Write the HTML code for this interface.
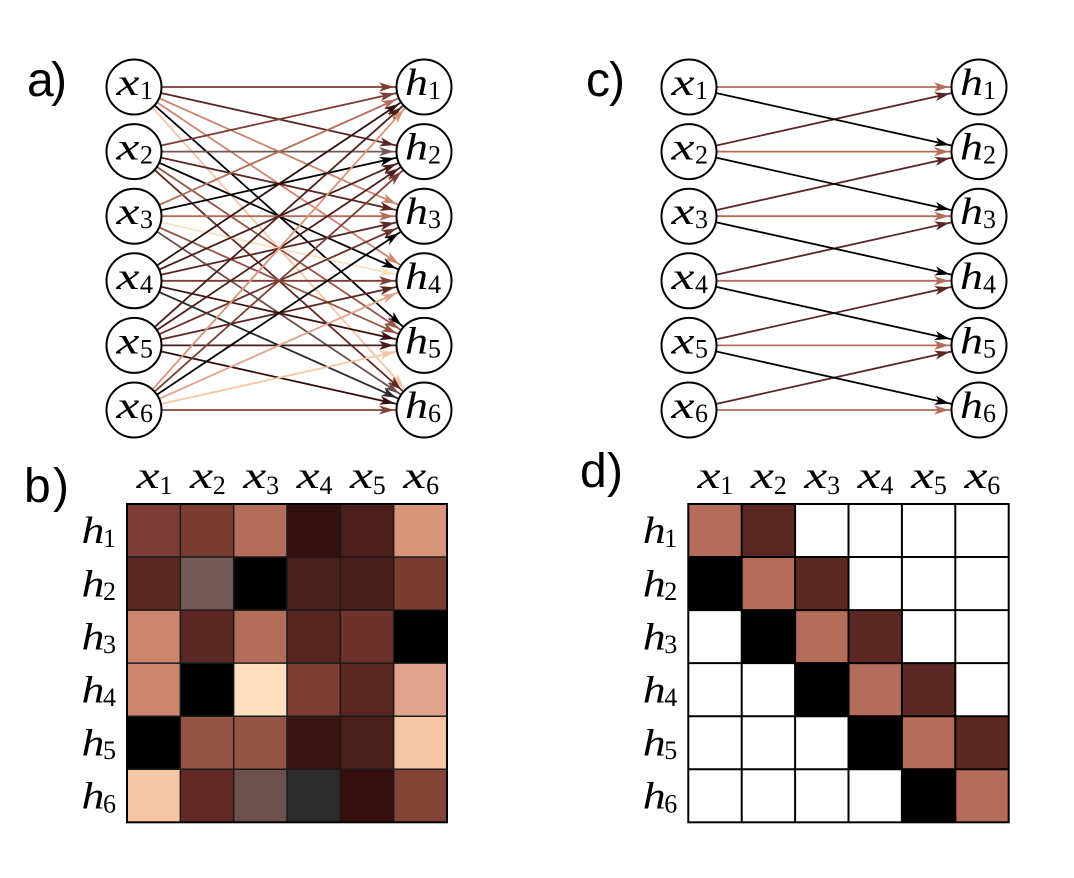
<!DOCTYPE html>
<html><head><meta charset="utf-8"><style>
html,body{margin:0;padding:0;background:#fff;}
svg{display:block;}
.m{font-family:"Liberation Serif",serif;font-style:italic;font-size:38px;fill:#000;}
.s{font-family:"Liberation Serif",serif;font-size:26px;fill:#000;}
.p{font-family:"Liberation Sans",sans-serif;font-size:48px;fill:#000;}
</style></head><body>
<svg width="1074" height="878" viewBox="0 0 1074 878" xmlns="http://www.w3.org/2000/svg">
<defs>
<marker id="mA" viewBox="-50 -10 100 20" markerWidth="100" markerHeight="20" refX="30" refY="0" orient="auto" markerUnits="userSpaceOnUse"><path d="M0,0 L-15,-4.6 L-11,0 L-15,4.6Z" fill="#7b3d35"/></marker>
<marker id="mB" viewBox="-50 -10 100 20" markerWidth="100" markerHeight="20" refX="30" refY="0" orient="auto" markerUnits="userSpaceOnUse"><path d="M0,0 L-15,-4.6 L-11,0 L-15,4.6Z" fill="#b46d5a"/></marker>
<marker id="mC" viewBox="-50 -10 100 20" markerWidth="100" markerHeight="20" refX="30" refY="0" orient="auto" markerUnits="userSpaceOnUse"><path d="M0,0 L-15,-4.6 L-11,0 L-15,4.6Z" fill="#33110e"/></marker>
<marker id="mD" viewBox="-50 -10 100 20" markerWidth="100" markerHeight="20" refX="30" refY="0" orient="auto" markerUnits="userSpaceOnUse"><path d="M0,0 L-15,-4.6 L-11,0 L-15,4.6Z" fill="#4a1e1a"/></marker>
<marker id="mE" viewBox="-50 -10 100 20" markerWidth="100" markerHeight="20" refX="30" refY="0" orient="auto" markerUnits="userSpaceOnUse"><path d="M0,0 L-15,-4.6 L-11,0 L-15,4.6Z" fill="#d8957a"/></marker>
<marker id="mF" viewBox="-50 -10 100 20" markerWidth="100" markerHeight="20" refX="30" refY="0" orient="auto" markerUnits="userSpaceOnUse"><path d="M0,0 L-15,-4.6 L-11,0 L-15,4.6Z" fill="#5b2722"/></marker>
<marker id="mG" viewBox="-50 -10 100 20" markerWidth="100" markerHeight="20" refX="30" refY="0" orient="auto" markerUnits="userSpaceOnUse"><path d="M0,0 L-15,-4.6 L-11,0 L-15,4.6Z" fill="#735856"/></marker>
<marker id="mK" viewBox="-50 -10 100 20" markerWidth="100" markerHeight="20" refX="30" refY="0" orient="auto" markerUnits="userSpaceOnUse"><path d="M0,0 L-15,-4.6 L-11,0 L-15,4.6Z" fill="#000000"/></marker>
<marker id="mH" viewBox="-50 -10 100 20" markerWidth="100" markerHeight="20" refX="30" refY="0" orient="auto" markerUnits="userSpaceOnUse"><path d="M0,0 L-15,-4.6 L-11,0 L-15,4.6Z" fill="#cc866f"/></marker>
<marker id="mI" viewBox="-50 -10 100 20" markerWidth="100" markerHeight="20" refX="30" refY="0" orient="auto" markerUnits="userSpaceOnUse"><path d="M0,0 L-15,-4.6 L-11,0 L-15,4.6Z" fill="#6d322c"/></marker>
<marker id="mJ" viewBox="-50 -10 100 20" markerWidth="100" markerHeight="20" refX="30" refY="0" orient="auto" markerUnits="userSpaceOnUse"><path d="M0,0 L-15,-4.6 L-11,0 L-15,4.6Z" fill="#fde0c0"/></marker>
<marker id="mL" viewBox="-50 -10 100 20" markerWidth="100" markerHeight="20" refX="30" refY="0" orient="auto" markerUnits="userSpaceOnUse"><path d="M0,0 L-15,-4.6 L-11,0 L-15,4.6Z" fill="#e0a48e"/></marker>
<marker id="mM" viewBox="-50 -10 100 20" markerWidth="100" markerHeight="20" refX="30" refY="0" orient="auto" markerUnits="userSpaceOnUse"><path d="M0,0 L-15,-4.6 L-11,0 L-15,4.6Z" fill="#955345"/></marker>
<marker id="mN" viewBox="-50 -10 100 20" markerWidth="100" markerHeight="20" refX="30" refY="0" orient="auto" markerUnits="userSpaceOnUse"><path d="M0,0 L-15,-4.6 L-11,0 L-15,4.6Z" fill="#3c1512"/></marker>
<marker id="mO" viewBox="-50 -10 100 20" markerWidth="100" markerHeight="20" refX="30" refY="0" orient="auto" markerUnits="userSpaceOnUse"><path d="M0,0 L-15,-4.6 L-11,0 L-15,4.6Z" fill="#f5c6a6"/></marker>
<marker id="mP" viewBox="-50 -10 100 20" markerWidth="100" markerHeight="20" refX="30" refY="0" orient="auto" markerUnits="userSpaceOnUse"><path d="M0,0 L-15,-4.6 L-11,0 L-15,4.6Z" fill="#612a24"/></marker>
<marker id="mQ" viewBox="-50 -10 100 20" markerWidth="100" markerHeight="20" refX="30" refY="0" orient="auto" markerUnits="userSpaceOnUse"><path d="M0,0 L-15,-4.6 L-11,0 L-15,4.6Z" fill="#6c504d"/></marker>
<marker id="mR" viewBox="-50 -10 100 20" markerWidth="100" markerHeight="20" refX="30" refY="0" orient="auto" markerUnits="userSpaceOnUse"><path d="M0,0 L-15,-4.6 L-11,0 L-15,4.6Z" fill="#2b2b2b"/></marker>
<marker id="mS" viewBox="-50 -10 100 20" markerWidth="100" markerHeight="20" refX="30" refY="0" orient="auto" markerUnits="userSpaceOnUse"><path d="M0,0 L-15,-4.6 L-11,0 L-15,4.6Z" fill="#360f0d"/></marker>
<marker id="mT" viewBox="-50 -10 100 20" markerWidth="100" markerHeight="20" refX="30" refY="0" orient="auto" markerUnits="userSpaceOnUse"><path d="M0,0 L-15,-4.6 L-11,0 L-15,4.6Z" fill="#834438"/></marker>
</defs>

<!-- Panel labels -->
<text class="p" x="27" y="96">a</text><text class="p" x="51" y="96">)</text>
<text class="p" x="586" y="96">c</text><text class="p" x="609" y="96">)</text>
<text class="p" x="24" y="502">b</text><text class="p" x="53" y="502">)</text>
<text class="p" x="580" y="487">d</text><text class="p" x="607" y="487">)</text>

<!-- Panel a edges -->
<g stroke-width="1.8" fill="none">
<line x1="134" y1="87" x2="424" y2="87" stroke="#7b3d35" marker-end="url(#mA)"/>
<line x1="134" y1="87" x2="424" y2="151.6" stroke="#5b2722" marker-end="url(#mF)"/>
<line x1="134" y1="87" x2="424" y2="216.2" stroke="#cc866f" marker-end="url(#mH)"/>
<line x1="134" y1="87" x2="424" y2="280.8" stroke="#cc866f" marker-end="url(#mH)"/>
<line x1="134" y1="87" x2="424" y2="345.4" stroke="#000000" marker-end="url(#mK)"/>
<line x1="134" y1="87" x2="424" y2="410" stroke="#f5c6a6" marker-end="url(#mO)"/>

<line x1="134" y1="151.6" x2="424" y2="87" stroke="#7b3d35" marker-end="url(#mA)"/>
<line x1="134" y1="151.6" x2="424" y2="151.6" stroke="#735856" marker-end="url(#mG)"/>
<line x1="134" y1="151.6" x2="424" y2="216.2" stroke="#5b2722" marker-end="url(#mF)"/>
<line x1="134" y1="151.6" x2="424" y2="280.8" stroke="#000000" marker-end="url(#mK)"/>
<line x1="134" y1="151.6" x2="424" y2="345.4" stroke="#955345" marker-end="url(#mM)"/>
<line x1="134" y1="151.6" x2="424" y2="410" stroke="#612a24" marker-end="url(#mP)"/>

<line x1="134" y1="216.2" x2="424" y2="87" stroke="#b46d5a" marker-end="url(#mB)"/>
<line x1="134" y1="216.2" x2="424" y2="151.6" stroke="#000000" marker-end="url(#mK)"/>
<line x1="134" y1="216.2" x2="424" y2="216.2" stroke="#b46d5a" marker-end="url(#mB)"/>
<line x1="134" y1="216.2" x2="424" y2="280.8" stroke="#fde0c0" marker-end="url(#mJ)"/>
<line x1="134" y1="216.2" x2="424" y2="345.4" stroke="#955345" marker-end="url(#mM)"/>
<line x1="134" y1="216.2" x2="424" y2="410" stroke="#6c504d" marker-end="url(#mQ)"/>

<line x1="134" y1="280.8" x2="424" y2="87" stroke="#33110e" marker-end="url(#mC)"/>
<line x1="134" y1="280.8" x2="424" y2="151.6" stroke="#4a1e1a" marker-end="url(#mD)"/>
<line x1="134" y1="280.8" x2="424" y2="216.2" stroke="#5b2722" marker-end="url(#mF)"/>
<line x1="134" y1="280.8" x2="424" y2="280.8" stroke="#7b3d35" marker-end="url(#mA)"/>
<line x1="134" y1="280.8" x2="424" y2="345.4" stroke="#3c1512" marker-end="url(#mN)"/>
<line x1="134" y1="280.8" x2="424" y2="410" stroke="#2b2b2b" marker-end="url(#mR)"/>

<line x1="134" y1="345.4" x2="424" y2="87" stroke="#4a1e1a" marker-end="url(#mD)"/>
<line x1="134" y1="345.4" x2="424" y2="151.6" stroke="#4a1e1a" marker-end="url(#mD)"/>
<line x1="134" y1="345.4" x2="424" y2="216.2" stroke="#6d322c" marker-end="url(#mI)"/>
<line x1="134" y1="345.4" x2="424" y2="280.8" stroke="#5b2722" marker-end="url(#mF)"/>
<line x1="134" y1="345.4" x2="424" y2="345.4" stroke="#4a1e1a" marker-end="url(#mD)"/>
<line x1="134" y1="345.4" x2="424" y2="410" stroke="#360f0d" marker-end="url(#mS)"/>

<line x1="134" y1="410" x2="424" y2="87" stroke="#d8957a" marker-end="url(#mE)"/>
<line x1="134" y1="410" x2="424" y2="151.6" stroke="#7b3d35" marker-end="url(#mA)"/>
<line x1="134" y1="410" x2="424" y2="216.2" stroke="#000000" marker-end="url(#mK)"/>
<line x1="134" y1="410" x2="424" y2="280.8" stroke="#e0a48e" marker-end="url(#mL)"/>
<line x1="134" y1="410" x2="424" y2="345.4" stroke="#f5c6a6" marker-end="url(#mO)"/>
<line x1="134" y1="410" x2="424" y2="410" stroke="#834438" marker-end="url(#mT)"/>
</g>

<!-- Panel c edges -->
<g stroke-width="1.8" fill="none">
<line x1="689" y1="151.6" x2="979" y2="87" stroke="#5b2722" marker-end="url(#mF)"/>
<line x1="689" y1="216.2" x2="979" y2="151.6" stroke="#5b2722" marker-end="url(#mF)"/>
<line x1="689" y1="280.8" x2="979" y2="216.2" stroke="#5b2722" marker-end="url(#mF)"/>
<line x1="689" y1="345.4" x2="979" y2="280.8" stroke="#5b2722" marker-end="url(#mF)"/>
<line x1="689" y1="410" x2="979" y2="345.4" stroke="#5b2722" marker-end="url(#mF)"/>

<line x1="689" y1="87" x2="979" y2="151.6" stroke="#000" marker-end="url(#mK)"/>
<line x1="689" y1="151.6" x2="979" y2="216.2" stroke="#000" marker-end="url(#mK)"/>
<line x1="689" y1="216.2" x2="979" y2="280.8" stroke="#000" marker-end="url(#mK)"/>
<line x1="689" y1="280.8" x2="979" y2="345.4" stroke="#000" marker-end="url(#mK)"/>
<line x1="689" y1="345.4" x2="979" y2="410" stroke="#000" marker-end="url(#mK)"/>

<line x1="689" y1="87" x2="979" y2="87" stroke="#b46d5a" marker-end="url(#mB)"/>
<line x1="689" y1="151.6" x2="979" y2="151.6" stroke="#b46d5a" marker-end="url(#mB)"/>
<line x1="689" y1="216.2" x2="979" y2="216.2" stroke="#b46d5a" marker-end="url(#mB)"/>
<line x1="689" y1="280.8" x2="979" y2="280.8" stroke="#b46d5a" marker-end="url(#mB)"/>
<line x1="689" y1="345.4" x2="979" y2="345.4" stroke="#b46d5a" marker-end="url(#mB)"/>
<line x1="689" y1="410" x2="979" y2="410" stroke="#b46d5a" marker-end="url(#mB)"/>
</g>

<!-- Nodes -->
<g fill="#fff" stroke="#000" stroke-width="2">
<circle cx="134" cy="87" r="27.5"/><circle cx="134" cy="151.6" r="27.5"/><circle cx="134" cy="216.2" r="27.5"/>
<circle cx="134" cy="280.8" r="27.5"/><circle cx="134" cy="345.4" r="27.5"/><circle cx="134" cy="410" r="27.5"/>
<circle cx="424" cy="87" r="27.5"/><circle cx="424" cy="151.6" r="27.5"/><circle cx="424" cy="216.2" r="27.5"/>
<circle cx="424" cy="280.8" r="27.5"/><circle cx="424" cy="345.4" r="27.5"/><circle cx="424" cy="410" r="27.5"/>
<circle cx="689" cy="87" r="27.5"/><circle cx="689" cy="151.6" r="27.5"/><circle cx="689" cy="216.2" r="27.5"/>
<circle cx="689" cy="280.8" r="27.5"/><circle cx="689" cy="345.4" r="27.5"/><circle cx="689" cy="410" r="27.5"/>
<circle cx="979" cy="87" r="27.5"/><circle cx="979" cy="151.6" r="27.5"/><circle cx="979" cy="216.2" r="27.5"/>
<circle cx="979" cy="280.8" r="27.5"/><circle cx="979" cy="345.4" r="27.5"/><circle cx="979" cy="410" r="27.5"/>
</g>

<!-- Node labels panel a -->
<text class="m" x="116.5" y="95" textLength="23" lengthAdjust="spacingAndGlyphs">x</text><text class="s" x="140" y="99">1</text>
<text class="m" x="116.5" y="159.6" textLength="23" lengthAdjust="spacingAndGlyphs">x</text><text class="s" x="140" y="163.6">2</text>
<text class="m" x="116.5" y="224.2" textLength="23" lengthAdjust="spacingAndGlyphs">x</text><text class="s" x="140" y="228.2">3</text>
<text class="m" x="116.5" y="288.8" textLength="23" lengthAdjust="spacingAndGlyphs">x</text><text class="s" x="140" y="292.8">4</text>
<text class="m" x="116.5" y="353.4" textLength="23" lengthAdjust="spacingAndGlyphs">x</text><text class="s" x="140" y="357.4">5</text>
<text class="m" x="116.5" y="418" textLength="23" lengthAdjust="spacingAndGlyphs">x</text><text class="s" x="140" y="422">6</text>

<text class="m" x="405" y="95" textLength="23" lengthAdjust="spacingAndGlyphs">h</text><text class="s" x="428" y="99">1</text>
<text class="m" x="405" y="159.6" textLength="23" lengthAdjust="spacingAndGlyphs">h</text><text class="s" x="428" y="163.6">2</text>
<text class="m" x="405" y="224.2" textLength="23" lengthAdjust="spacingAndGlyphs">h</text><text class="s" x="428" y="228.2">3</text>
<text class="m" x="405" y="288.8" textLength="23" lengthAdjust="spacingAndGlyphs">h</text><text class="s" x="428" y="292.8">4</text>
<text class="m" x="405" y="353.4" textLength="23" lengthAdjust="spacingAndGlyphs">h</text><text class="s" x="428" y="357.4">5</text>
<text class="m" x="405" y="418" textLength="23" lengthAdjust="spacingAndGlyphs">h</text><text class="s" x="428" y="422">6</text>

<!-- Node labels panel c -->
<text class="m" x="671.5" y="95" textLength="23" lengthAdjust="spacingAndGlyphs">x</text><text class="s" x="695" y="99">1</text>
<text class="m" x="671.5" y="159.6" textLength="23" lengthAdjust="spacingAndGlyphs">x</text><text class="s" x="695" y="163.6">2</text>
<text class="m" x="671.5" y="224.2" textLength="23" lengthAdjust="spacingAndGlyphs">x</text><text class="s" x="695" y="228.2">3</text>
<text class="m" x="671.5" y="288.8" textLength="23" lengthAdjust="spacingAndGlyphs">x</text><text class="s" x="695" y="292.8">4</text>
<text class="m" x="671.5" y="353.4" textLength="23" lengthAdjust="spacingAndGlyphs">x</text><text class="s" x="695" y="357.4">5</text>
<text class="m" x="671.5" y="418" textLength="23" lengthAdjust="spacingAndGlyphs">x</text><text class="s" x="695" y="422">6</text>

<text class="m" x="960" y="95" textLength="23" lengthAdjust="spacingAndGlyphs">h</text><text class="s" x="983" y="99">1</text>
<text class="m" x="960" y="159.6" textLength="23" lengthAdjust="spacingAndGlyphs">h</text><text class="s" x="983" y="163.6">2</text>
<text class="m" x="960" y="224.2" textLength="23" lengthAdjust="spacingAndGlyphs">h</text><text class="s" x="983" y="228.2">3</text>
<text class="m" x="960" y="288.8" textLength="23" lengthAdjust="spacingAndGlyphs">h</text><text class="s" x="983" y="292.8">4</text>
<text class="m" x="960" y="353.4" textLength="23" lengthAdjust="spacingAndGlyphs">h</text><text class="s" x="983" y="357.4">5</text>
<text class="m" x="960" y="418" textLength="23" lengthAdjust="spacingAndGlyphs">h</text><text class="s" x="983" y="422">6</text>

<!-- Heatmap b -->
<g>
<rect x="127" y="504" width="53.4" height="53.1" fill="#7b3d35"/>
<rect x="180.33" y="504" width="53.4" height="53.1" fill="#7a3d33"/>
<rect x="233.67" y="504" width="53.4" height="53.1" fill="#b46d5a"/>
<rect x="287" y="504" width="53.4" height="53.1" fill="#33110e"/>
<rect x="340.33" y="504" width="53.4" height="53.1" fill="#4b1e1a"/>
<rect x="393.67" y="504" width="53.4" height="53.1" fill="#d8957a"/>

<rect x="127" y="557.05" width="53.4" height="53.1" fill="#5b2722"/>
<rect x="180.33" y="557.05" width="53.4" height="53.1" fill="#735856"/>
<rect x="233.67" y="557.05" width="53.4" height="53.1" fill="#000000"/>
<rect x="287" y="557.05" width="53.4" height="53.1" fill="#4a1e1a"/>
<rect x="340.33" y="557.05" width="53.4" height="53.1" fill="#481d19"/>
<rect x="393.67" y="557.05" width="53.4" height="53.1" fill="#7a3d33"/>

<rect x="127" y="610.1" width="53.4" height="53.1" fill="#cc866f"/>
<rect x="180.33" y="610.1" width="53.4" height="53.1" fill="#5c2823"/>
<rect x="233.67" y="610.1" width="53.4" height="53.1" fill="#b46d5a"/>
<rect x="287" y="610.1" width="53.4" height="53.1" fill="#562520"/>
<rect x="340.33" y="610.1" width="53.4" height="53.1" fill="#6d322c"/>
<rect x="393.67" y="610.1" width="53.4" height="53.1" fill="#000000"/>

<rect x="127" y="663.15" width="53.4" height="53.1" fill="#cd8670"/>
<rect x="180.33" y="663.15" width="53.4" height="53.1" fill="#000000"/>
<rect x="233.67" y="663.15" width="53.4" height="53.1" fill="#fde0c0"/>
<rect x="287" y="663.15" width="53.4" height="53.1" fill="#7d3e35"/>
<rect x="340.33" y="663.15" width="53.4" height="53.1" fill="#5a2621"/>
<rect x="393.67" y="663.15" width="53.4" height="53.1" fill="#e0a48e"/>

<rect x="127" y="716.2" width="53.4" height="53.1" fill="#000000"/>
<rect x="180.33" y="716.2" width="53.4" height="53.1" fill="#955345"/>
<rect x="233.67" y="716.2" width="53.4" height="53.1" fill="#955345"/>
<rect x="287" y="716.2" width="53.4" height="53.1" fill="#3c1512"/>
<rect x="340.33" y="716.2" width="53.4" height="53.1" fill="#4a1e1a"/>
<rect x="393.67" y="716.2" width="53.4" height="53.1" fill="#f5c6a6"/>

<rect x="127" y="769.25" width="53.4" height="53.05" fill="#f5c6a6"/>
<rect x="180.33" y="769.25" width="53.4" height="53.05" fill="#612a24"/>
<rect x="233.67" y="769.25" width="53.4" height="53.05" fill="#6c504d"/>
<rect x="287" y="769.25" width="53.4" height="53.05" fill="#2b2b2b"/>
<rect x="340.33" y="769.25" width="53.4" height="53.05" fill="#360f0d"/>
<rect x="393.67" y="769.25" width="53.35" height="53.05" fill="#834438"/>
</g>
<g stroke="#1a1a1a" stroke-width="1.5" fill="none">
<line x1="180.33" y1="504" x2="180.33" y2="822.3"/>
<line x1="233.67" y1="504" x2="233.67" y2="822.3"/>
<line x1="287" y1="504" x2="287" y2="822.3"/>
<line x1="340.33" y1="504" x2="340.33" y2="822.3"/>
<line x1="393.67" y1="504" x2="393.67" y2="822.3"/>
<line x1="127" y1="557.05" x2="447" y2="557.05"/>
<line x1="127" y1="610.1" x2="447" y2="610.1"/>
<line x1="127" y1="663.15" x2="447" y2="663.15"/>
<line x1="127" y1="716.2" x2="447" y2="716.2"/>
<line x1="127" y1="769.25" x2="447" y2="769.25"/>
<rect x="127" y="504" width="320" height="318.3" stroke="#000" stroke-width="2"/>
</g>

<!-- Heatmap b labels -->
<text class="m" x="136.7" y="488" textLength="23" lengthAdjust="spacingAndGlyphs">x</text><text class="s" x="159.5" y="494">1</text>
<text class="m" x="190" y="488" textLength="23" lengthAdjust="spacingAndGlyphs">x</text><text class="s" x="212.8" y="494">2</text>
<text class="m" x="243.3" y="488" textLength="23" lengthAdjust="spacingAndGlyphs">x</text><text class="s" x="266.1" y="494">3</text>
<text class="m" x="296.7" y="488" textLength="23" lengthAdjust="spacingAndGlyphs">x</text><text class="s" x="319.5" y="494">4</text>
<text class="m" x="350" y="488" textLength="23" lengthAdjust="spacingAndGlyphs">x</text><text class="s" x="372.8" y="494">5</text>
<text class="m" x="403.3" y="488" textLength="23" lengthAdjust="spacingAndGlyphs">x</text><text class="s" x="426.1" y="494">6</text>

<text class="m" x="81.5" y="543.2" textLength="23" lengthAdjust="spacingAndGlyphs">h</text><text class="s" x="103" y="547">1</text>
<text class="m" x="81.5" y="596.3" textLength="23" lengthAdjust="spacingAndGlyphs">h</text><text class="s" x="103" y="600.1">2</text>
<text class="m" x="81.5" y="649.3" textLength="23" lengthAdjust="spacingAndGlyphs">h</text><text class="s" x="103" y="653.1">3</text>
<text class="m" x="81.5" y="702.4" textLength="23" lengthAdjust="spacingAndGlyphs">h</text><text class="s" x="103" y="706.2">4</text>
<text class="m" x="81.5" y="755.4" textLength="23" lengthAdjust="spacingAndGlyphs">h</text><text class="s" x="103" y="759.2">5</text>
<text class="m" x="81.5" y="808.5" textLength="23" lengthAdjust="spacingAndGlyphs">h</text><text class="s" x="103" y="812.3">6</text>

<!-- Heatmap d -->
<g>
<rect x="688.3" y="504" width="53.4" height="53.05" fill="#b46d5a"/>
<rect x="741.7" y="504" width="53.4" height="53.05" fill="#5c2823"/>
<rect x="688.3" y="557.05" width="53.4" height="53.05" fill="#000"/>
<rect x="741.7" y="557.05" width="53.4" height="53.05" fill="#b46d5a"/>
<rect x="795.1" y="557.05" width="53.4" height="53.05" fill="#5c2823"/>
<rect x="741.7" y="610.1" width="53.4" height="53.05" fill="#000"/>
<rect x="795.1" y="610.1" width="53.4" height="53.05" fill="#b46d5a"/>
<rect x="848.5" y="610.1" width="53.4" height="53.05" fill="#5c2823"/>
<rect x="795.1" y="663.15" width="53.4" height="53.05" fill="#000"/>
<rect x="848.5" y="663.15" width="53.4" height="53.05" fill="#b46d5a"/>
<rect x="901.9" y="663.15" width="53.4" height="53.05" fill="#5c2823"/>
<rect x="848.5" y="716.2" width="53.4" height="53.05" fill="#000"/>
<rect x="901.9" y="716.2" width="53.4" height="53.05" fill="#b46d5a"/>
<rect x="955.3" y="716.2" width="53.4" height="53.05" fill="#5c2823"/>
<rect x="901.9" y="769.25" width="53.4" height="53.05" fill="#000"/>
<rect x="955.3" y="769.25" width="53.4" height="53.05" fill="#b46d5a"/>
</g>
<g stroke="#000" stroke-width="2" fill="none">
<line x1="741.7" y1="504" x2="741.7" y2="822.3"/>
<line x1="795.1" y1="504" x2="795.1" y2="822.3"/>
<line x1="848.5" y1="504" x2="848.5" y2="822.3"/>
<line x1="901.9" y1="504" x2="901.9" y2="822.3"/>
<line x1="955.3" y1="504" x2="955.3" y2="822.3"/>
<line x1="688.3" y1="557.05" x2="1008.7" y2="557.05"/>
<line x1="688.3" y1="610.1" x2="1008.7" y2="610.1"/>
<line x1="688.3" y1="663.15" x2="1008.7" y2="663.15"/>
<line x1="688.3" y1="716.2" x2="1008.7" y2="716.2"/>
<line x1="688.3" y1="769.25" x2="1008.7" y2="769.25"/>
<rect x="688.3" y="504" width="320.4" height="318.3"/>
</g>

<!-- Heatmap d labels -->
<text class="m" x="697.5" y="488" textLength="23" lengthAdjust="spacingAndGlyphs">x</text><text class="s" x="720.3" y="494">1</text>
<text class="m" x="750.9" y="488" textLength="23" lengthAdjust="spacingAndGlyphs">x</text><text class="s" x="773.7" y="494">2</text>
<text class="m" x="804.3" y="488" textLength="23" lengthAdjust="spacingAndGlyphs">x</text><text class="s" x="827.1" y="494">3</text>
<text class="m" x="857.7" y="488" textLength="23" lengthAdjust="spacingAndGlyphs">x</text><text class="s" x="880.5" y="494">4</text>
<text class="m" x="911.1" y="488" textLength="23" lengthAdjust="spacingAndGlyphs">x</text><text class="s" x="933.9" y="494">5</text>
<text class="m" x="964.5" y="488" textLength="23" lengthAdjust="spacingAndGlyphs">x</text><text class="s" x="987.3" y="494">6</text>

<text class="m" x="642.8" y="543.2" textLength="23" lengthAdjust="spacingAndGlyphs">h</text><text class="s" x="664.3" y="547">1</text>
<text class="m" x="642.8" y="596.3" textLength="23" lengthAdjust="spacingAndGlyphs">h</text><text class="s" x="664.3" y="600.1">2</text>
<text class="m" x="642.8" y="649.3" textLength="23" lengthAdjust="spacingAndGlyphs">h</text><text class="s" x="664.3" y="653.1">3</text>
<text class="m" x="642.8" y="702.4" textLength="23" lengthAdjust="spacingAndGlyphs">h</text><text class="s" x="664.3" y="706.2">4</text>
<text class="m" x="642.8" y="755.4" textLength="23" lengthAdjust="spacingAndGlyphs">h</text><text class="s" x="664.3" y="759.2">5</text>
<text class="m" x="642.8" y="808.5" textLength="23" lengthAdjust="spacingAndGlyphs">h</text><text class="s" x="664.3" y="812.3">6</text>
</svg>
</body></html>
